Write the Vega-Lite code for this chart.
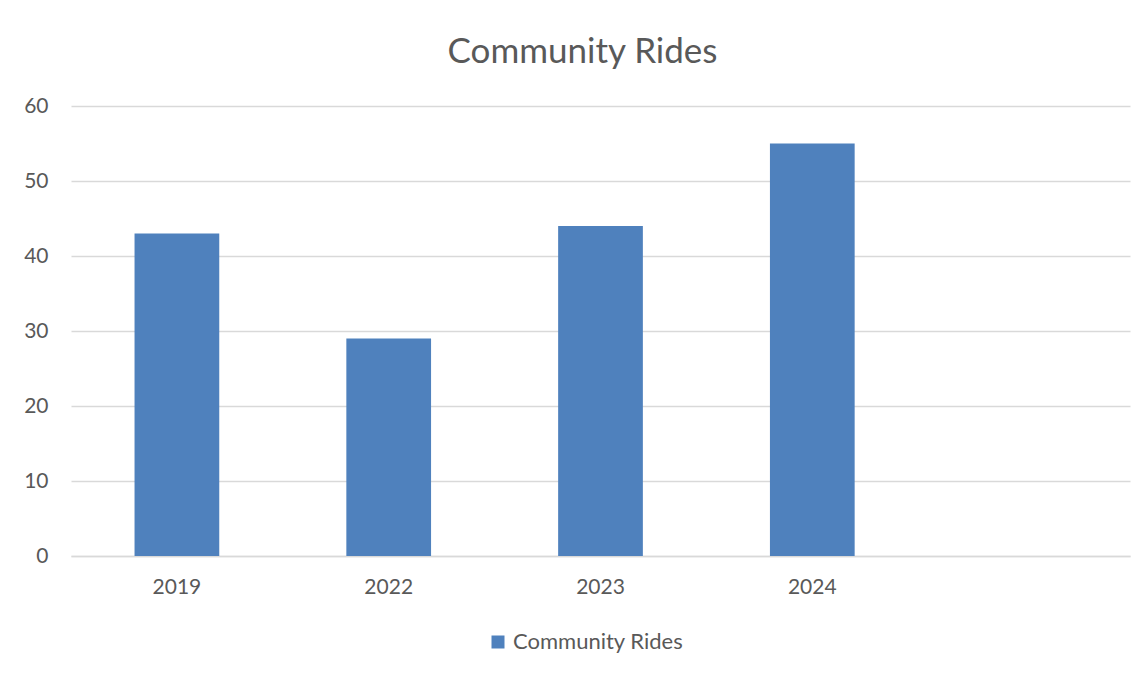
{
  "$schema": "https://vega.github.io/schema/vega-lite/v6.json",
  "width": 1059,
  "height": 450,
  "autosize": {"type": "none"},
  "padding": {"left": 71, "top": 106, "right": 17, "bottom": 118},
  "background": "white",
  "title": {
    "text": "Community Rides",
    "font": "Lato",
    "fontSize": 35,
    "fontWeight": "normal",
    "color": "#595959",
    "anchor": "middle",
    "dx": -18,
    "offset": 25
  },
  "data": {
    "values": [
      {"year": "2019", "rides": 43, "series": "Community Rides"},
      {"year": "2022", "rides": 29, "series": "Community Rides"},
      {"year": "2023", "rides": 44, "series": "Community Rides"},
      {"year": "2024", "rides": 55, "series": "Community Rides"}
    ]
  },
  "mark": {"type": "bar", "color": "#4f81bd"},
  "encoding": {
    "x": {
      "field": "year",
      "type": "nominal",
      "scale": {"domain": ["2019", "2022", "2023", "2024", " "], "paddingInner": 0.6, "paddingOuter": 0.3},
      "axis": {
        "title": null,
        "labelAngle": 0,
        "ticks": false,
        "domainColor": "#d9d9d9",
        "domainWidth": 1.5,
        "labelFont": "Lato",
        "labelFontSize": 21,
        "labelColor": "#595959",
        "labelPadding": 20
      }
    },
    "y": {
      "field": "rides",
      "type": "quantitative",
      "scale": {"domain": [0, 60]},
      "axis": {
        "title": null,
        "values": [0, 10, 20, 30, 40, 50, 60],
        "ticks": false,
        "domain": false,
        "gridColor": "#d9d9d9",
        "gridWidth": 1.5,
        "labelFont": "Lato",
        "labelFontSize": 21,
        "labelColor": "#595959",
        "labelPadding": 23
      }
    },
    "fill": {
      "field": "series",
      "type": "nominal",
      "scale": {"range": ["#4f81bd"]},
      "legend": {
        "title": null,
        "orient": "none",
        "legendX": 416,
        "legendY": 525,
        "direction": "horizontal",
        "symbolType": "square",
        "symbolSize": 169,
        "symbolStrokeWidth": 0,
        "labelFont": "Lato",
        "labelFontSize": 22,
        "labelColor": "#595959",
        "labelOffset": 4,
        "labelLimit": 400
      }
    }
  },
  "config": {
    "view": {"stroke": null}
  }
}
